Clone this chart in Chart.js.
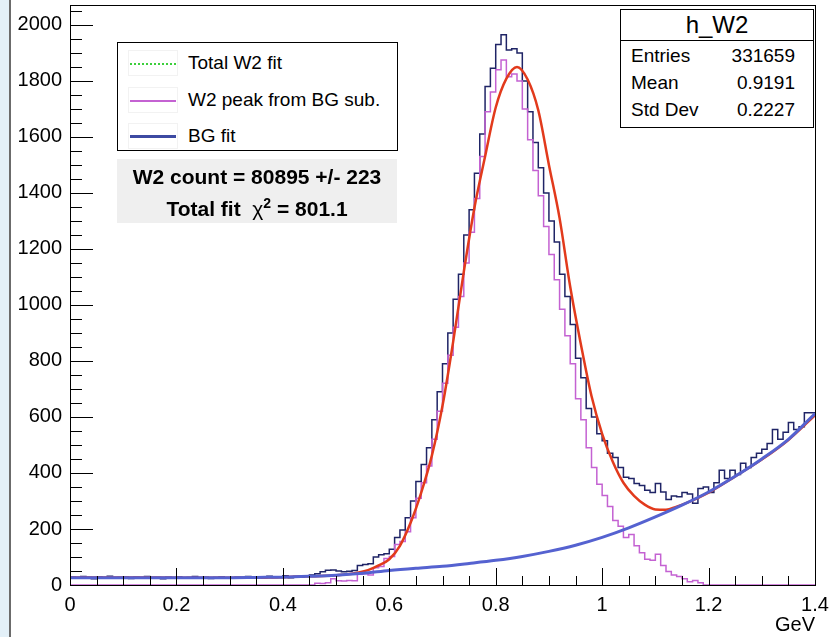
<!DOCTYPE html>
<html lang="en">
<head>
  <meta charset="UTF-8" />
  <title>h_W2</title>
  <script src="https://cdn.jsdelivr.net/npm/chart.js"></script>
  <style>
    html, body { margin: 0; padding: 0; background: #fff; }
    body {
      width: 831px; height: 637px; overflow: hidden; position: relative;
      font-family: 'Liberation Sans', Arial, Helvetica, sans-serif; color: #000;
    }
    #strip { position: absolute; left: 0; top: 0; width: 9px; height: 637px; background: #e3f0f8; border-right: 2px solid #6b6b6b; }
    #plot { position: absolute; left: 0; top: 0; }
    .box { position: absolute; background: #fff; border: 1px solid #000; box-sizing: border-box; }
    .entry { position: absolute; left: 0; width: 100%; height: 26px; line-height: 26px; font-size: 19px; }
    .entry .txt { position: absolute; left: 70px; top: 0; white-space: nowrap; }
    .entry .mark { position: absolute; left: 10px; top: 0; width: 50px; height: 26px; border: 1px solid #f2f2f2; box-sizing: border-box; }
    .entry .mark i { position: absolute; left: 1px; right: 1px; top: 12px; }
    #fitText { position: absolute; left: 117px; top: 159px; width: 280px; height: 64px; background: #efefef; font-weight: bold; font-size: 21px; text-align: center; }
    #fitText div { position: absolute; left: 0; width: 100%; line-height: 26px; }
    #stats .row { position: absolute; left: 10px; right: 18px; height: 26px; line-height: 26px; font-size: 19px; }
    #stats .row span { position: absolute; right: 0; top: 0; }
  </style>
</head>
<body>
  <div id="strip"></div>
  <canvas id="plot" width="831" height="637"></canvas>

  <!-- legend -->
  <div class="box" style="left:117px;top:42px;width:281px;height:109px;">
    <div class="entry" style="top:7px"><div class="mark"><i style="border-top:2px dotted #3ccf3c"></i></div><span class="txt">Total W2 fit</span></div>
    <div class="entry" style="top:44px"><div class="mark"><i style="border-top:2px solid #c462d2"></i></div><span class="txt">W2 peak from BG sub.</span></div>
    <div class="entry" style="top:80px"><div class="mark"><i style="border-top:3px solid #3d4aa2;top:11px"></i></div><span class="txt">BG fit</span></div>
  </div>

  <div id="fitText">
    <div style="top:5px">W2 count = 80895 +/- 223</div>
    <div style="top:31px">Total fit &nbsp;<span style="font-weight:normal">&chi;</span><sup style="font-size:14px">2</sup> = 801.1</div>
  </div>

  <!-- stats box -->
  <div id="stats" class="box" style="left:620px;top:9px;width:194px;height:119px;">
    <div style="position:absolute;left:0;top:0;width:100%;height:30px;border-bottom:1px solid #000;text-align:center;font-size:24px;line-height:30px;">h_W2</div>
    <div class="row" style="top:33px">Entries<span>331659</span></div>
    <div class="row" style="top:60px">Mean<span>0.9191</span></div>
    <div class="row" style="top:87px">Std Dev<span>0.2227</span></div>
  </div>

  <script>
    // histogram binning (GeV)
    const binWidth = 0.01;
    const xMin = 0, xMax = 1.4;
    const yMax = 2071;

    // h_W2 counts per bin, 0.00 .. 1.39
    const dataBins = [
      31, 28, 25, 30, 27, 22, 29, 26, 31, 24,
      27, 29, 23, 28, 26, 30, 25, 27, 22, 28,
      26, 29, 24, 27, 30, 25, 28, 23, 27, 29,
      26, 24, 28, 27, 30, 25, 29, 26, 31, 27,
      28, 33, 26, 30, 29, 32, 36, 40, 47, 53,
      54, 50, 47, 49, 52, 70, 73, 76, 100, 108,
      112, 128, 170, 196, 240, 300, 370, 430, 490, 590,
      690, 790, 900, 1020, 1110, 1250, 1340, 1470, 1610, 1780,
      1845, 1930, 1965, 1910, 1915, 1900, 1800, 1690, 1580, 1490,
      1400, 1300, 1225, 1110, 1030, 930, 810, 740, 630, 600,
      540, 515, 470, 455, 420, 385, 380, 362, 355, 338,
      330, 362, 332, 305, 318, 315, 330, 325, 292, 345,
      350, 330, 365, 410, 380, 410, 395, 435, 420, 455,
      470, 485, 505, 555, 520, 545, 580, 555, 565, 615
    ];

    // W2 peak after background subtraction, same bins
    const peakBins = [
      0, 0, 0, 0, 0, 0, 0, 0, 0, 0,
      0, 0, 0, 0, 0, 0, 0, 0, 0, 0,
      0, 0, 0, 0, 0, 0, 0, 0, 0, 0,
      0, 0, 0, 0, 0, 0, 0, 0, 0, 0,
      0, 0, 0, 0, 0, 0, 0, 6, 5, 8,
      22, 15, 14, 16, 15, 38, 40, 36, 62, 66,
      95, 102, 145, 155, 190, 240, 310, 365, 425, 520,
      620, 720, 820, 920, 1030, 1150, 1260, 1380, 1530, 1690,
      1760, 1840, 1875, 1815, 1825, 1800, 1700, 1590, 1480, 1390,
      1280, 1180, 1090, 985, 890, 790, 665, 590, 490, 420,
      360, 320, 280, 230, 210, 170, 180, 140, 115, 92,
      88, 110, 70, 48, 36, 30, 22, 12, 16, 8,
      0, 0, 0, 0, 0, 0, 0, 0, 0, 0,
      0, 0, 0, 0, 0, 0, 0, 0, 0, 0
    ];

    // total fit curve
    const totX = [0, 0.1, 0.2, 0.3, 0.4, 0.45, 0.5, 0.52, 0.54, 0.56, 0.58, 0.6, 0.62, 0.64, 0.66, 0.68,
                  0.7, 0.72, 0.74, 0.76, 0.78, 0.8, 0.82, 0.84, 0.86, 0.88, 0.9, 0.92, 0.94, 0.96, 0.98,
                  1.0, 1.02, 1.04, 1.06, 1.08, 1.1, 1.12, 1.14, 1.16, 1.2, 1.25, 1.3, 1.35, 1.4];
    const totY = [27, 27, 26, 26, 28, 31, 35, 38, 44, 53, 70, 92, 140, 222, 330, 462,
                  640, 868, 1118, 1347, 1530, 1705, 1808, 1850, 1805, 1695, 1500, 1310, 1065, 860, 675,
                  540, 440, 365, 318, 287, 270, 269, 280, 294, 330, 388, 448, 518, 606];

    // background fit curve
    const bgX = [0, 0.05, 0.1, 0.15, 0.2, 0.25, 0.3, 0.35, 0.4, 0.45, 0.5, 0.55, 0.6, 0.65, 0.7,
                 0.75, 0.8, 0.85, 0.9, 0.95, 1.0, 1.05, 1.1, 1.15, 1.2, 1.25, 1.3, 1.35, 1.4];
    const bgY = [26, 26, 26, 26, 26, 26, 26, 27, 28, 31, 35, 42, 52, 60, 67,
                 77, 88, 102, 120, 142, 170, 204, 243, 285, 332, 388, 450, 520, 612];

    // axis tick labels
    const yTickValues = [0, 200, 400, 600, 800, 1000, 1200, 1400, 1600, 1800, 2000];
    const xTickValues = [0, 0.2, 0.4, 0.6, 0.8, 1, 1.2, 1.4];
    const yMajor = 200, yMinor = 50;
    const xMajor = 0.2, xMinor = 0.05;

    function histPoints(vals) {
      const pts = vals.map((v, i) => ({ x: +(i * binWidth).toFixed(3), y: v }));
      pts.push({ x: xMax, y: vals[vals.length - 1] });
      return pts;
    }
    function curvePoints(xs, ys) {
      return xs.map((x, i) => ({ x: x, y: ys[i] }));
    }

    // ROOT style frame with inward ticks
    const rootFrame = {
      id: 'rootFrame',
      afterDraw(chart) {
        const { ctx, chartArea: a, scales: { x, y } } = chart;
        ctx.save();
        ctx.strokeStyle = '#000';
        ctx.lineWidth = 1;
        ctx.strokeRect(a.left + 0.5, a.top + 0.5, a.right - a.left, a.bottom - a.top);
        ctx.beginPath();
        for (let v = 0; v <= yMax; v += yMinor) {
          const py = Math.round(y.getPixelForValue(v)) + 0.5;
          const len = v % yMajor === 0 ? 23 : 12;
          ctx.moveTo(a.left, py);
          ctx.lineTo(a.left + len, py);
        }
        const n = Math.round((xMax - xMin) / xMinor);
        const perMajor = Math.round(xMajor / xMinor);
        for (let i = 0; i <= n; i++) {
          const px = Math.round(x.getPixelForValue(xMin + i * xMinor)) + 0.5;
          const len = i % perMajor === 0 ? 17 : 9;
          ctx.moveTo(px, a.bottom);
          ctx.lineTo(px, a.bottom - len);
        }
        ctx.stroke();
        ctx.restore();
      }
    };

    const font = { family: "'Liberation Sans', Arial, Helvetica, sans-serif", size: 20 };

    new Chart(document.getElementById('plot').getContext('2d'), {
      type: 'scatter',
      data: {
        datasets: [
          {
            label: 'h_W2',
            data: histPoints(dataBins),
            showLine: true, stepped: 'after',
            borderColor: '#1f2466', borderWidth: 1.5,
            pointRadius: 0, order: 4
          },
          {
            label: 'W2 peak from BG sub.',
            data: histPoints(peakBins),
            showLine: true, stepped: 'after',
            borderColor: '#c462d2', borderWidth: 1.5,
            pointRadius: 0, order: 3
          },
          {
            label: 'Total W2 fit',
            data: curvePoints(totX, totY),
            showLine: true, cubicInterpolationMode: 'monotone',
            borderColor: '#e23a1c', borderWidth: 2.5,
            pointRadius: 0, order: 2
          },
          {
            label: 'BG fit',
            data: curvePoints(bgX, bgY),
            showLine: true, cubicInterpolationMode: 'monotone',
            borderColor: '#5562d0', borderWidth: 3,
            pointRadius: 0, order: 1
          }
        ]
      },
      options: {
        responsive: false,
        animation: false,
        layout: { padding: { left: 10, top: 5, right: 16, bottom: 0 } },
        plugins: { legend: { display: false }, tooltip: { enabled: false } },
        scales: {
          x: {
            type: 'linear', min: xMin, max: xMax,
            grid: { display: false, drawTicks: false },
            border: { display: false },
            ticks: { color: '#000', font: font, padding: 8, maxRotation: 0, callback: v => String(+v.toFixed(2)) },
            afterBuildTicks: s => { s.ticks = xTickValues.map(v => ({ value: v })); },
            title: { display: true, text: 'GeV', align: 'end', color: '#000', font: { family: font.family, size: 20 }, padding: { top: 0, bottom: 0 } },
            afterFit: s => { s.height = 52; s.paddingLeft = 0; s.paddingRight = 0; }
          },
          y: {
            min: 0, max: yMax,
            grid: { display: false, drawTicks: false },
            border: { display: false },
            ticks: { color: '#000', font: font, padding: 8, callback: v => String(v) },
            afterBuildTicks: s => { s.ticks = yTickValues.map(v => ({ value: v })); },
            afterFit: s => { s.width = 60; s.paddingTop = 0; s.paddingBottom = 0; }
          }
        }
      },
      plugins: [rootFrame]
    });
  </script>
</body>
</html>
